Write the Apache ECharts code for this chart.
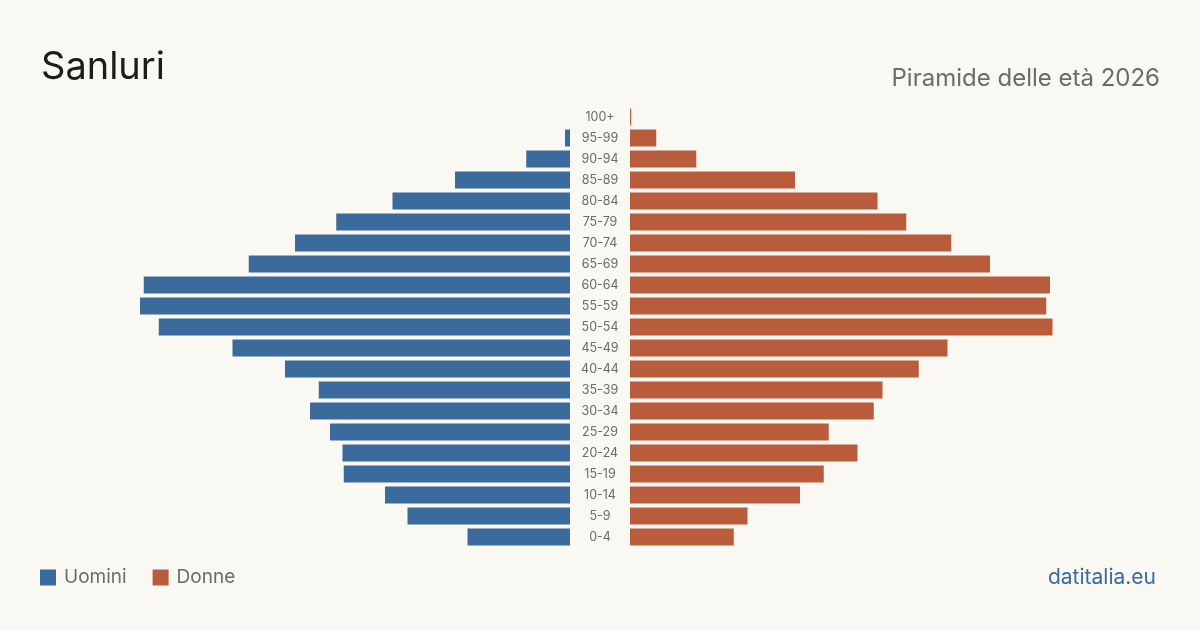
<!DOCTYPE html>
<html>
<head>
<meta charset="utf-8">
<script src="https://cdn.jsdelivr.net/npm/echarts@6/dist/echarts.min.js"></script>
<style>
  html, body { margin: 0; padding: 0; background: #faf8f3; }
  #chart { width: 1200px; height: 630px; }
</style>
</head>
<body>
<div id="chart"></div>
<script>
// Age classes, bottom to top
const ageGroups = ['0-4', '5-9', '10-14', '15-19', '20-24', '25-29', '30-34', '35-39', '40-44', '45-49',
  '50-54', '55-59', '60-64', '65-69', '70-74', '75-79', '80-84', '85-89', '90-94', '95-99', '100+'];

// Residents per age class
const men = [82, 130, 148, 181, 182, 192, 208, 201, 228, 270, 329, 344, 341, 257, 220, 187, 142, 92, 35, 4, 0];
const women = [83, 94, 136, 155, 182, 159, 195, 202, 231, 254, 338, 333, 336, 288, 257, 221, 198, 132, 53, 21, 1];

const axisMax = 424;

const blue = '#3a6b9c';
const orange = '#b95c3c';
const fontFamily = 'Inter, "Noto Sans", sans-serif';

const chart = echarts.init(document.getElementById('chart'));

const option = {
    backgroundColor: '#faf8f3',
    textStyle: { fontFamily: fontFamily },
    animation: false,
    title: [
        {
            text: 'Sanluri',
            left: 36,
            top: 44,
            textStyle: { fontSize: 38, fontWeight: 'normal', color: '#1c1c1c', fontFamily: fontFamily }
        },
        {
            text: 'Piramide delle età 2026',
            right: 35,
            top: 62,
            textStyle: { fontSize: 24, fontWeight: 'normal', color: '#6b6b6b', fontFamily: fontFamily }
        },
        {
            text: 'datitalia.eu',
            right: 39,
            top: 562,
            textStyle: { fontSize: 21, fontWeight: 'normal', color: blue, fontFamily: fontFamily }
        }
    ],
    legend: {
        left: 40,
        top: 568,
        padding: 0,
        icon: 'rect',
        itemWidth: 16,
        itemHeight: 16,
        itemGap: 26,
        textStyle: { fontSize: 19, color: '#6b6b6b', padding: [0, 0, 0, 3], fontFamily: fontFamily },
        data: ['Uomini', 'Donne']
    },
    grid: [
        { left: 40, right: 630, top: 106.5, bottom: 82.5 },
        { left: 630, right: 40, top: 106.5, bottom: 82.5 }
    ],
    xAxis: [
        {
            gridIndex: 0, type: 'value', inverse: true, min: 0, max: axisMax,
            axisLine: { show: false }, axisTick: { show: false },
            axisLabel: { show: false }, splitLine: { show: false }
        },
        {
            gridIndex: 1, type: 'value', min: 0, max: axisMax,
            axisLine: { show: false }, axisTick: { show: false },
            axisLabel: { show: false }, splitLine: { show: false }
        }
    ],
    yAxis: [
        {
            gridIndex: 0, type: 'category', data: ageGroups, position: 'right',
            axisLine: { show: false }, axisTick: { show: false }, axisLabel: { show: false }
        },
        {
            gridIndex: 1, type: 'category', data: ageGroups, position: 'left',
            axisLine: { show: false }, axisTick: { show: false },
            axisLabel: { show: true, align: 'center', margin: 30, fontSize: 12.5, color: '#6b6b6b', fontFamily: fontFamily }
        }
    ],
    series: [
        {
            name: 'Uomini', type: 'bar', xAxisIndex: 0, yAxisIndex: 0,
            barWidth: 17, itemStyle: { color: blue }, data: men
        },
        {
            name: 'Donne', type: 'bar', xAxisIndex: 1, yAxisIndex: 1,
            barWidth: 17, itemStyle: { color: orange }, data: women
        }
    ]
};

chart.setOption(option);
</script>
</body>
</html>
